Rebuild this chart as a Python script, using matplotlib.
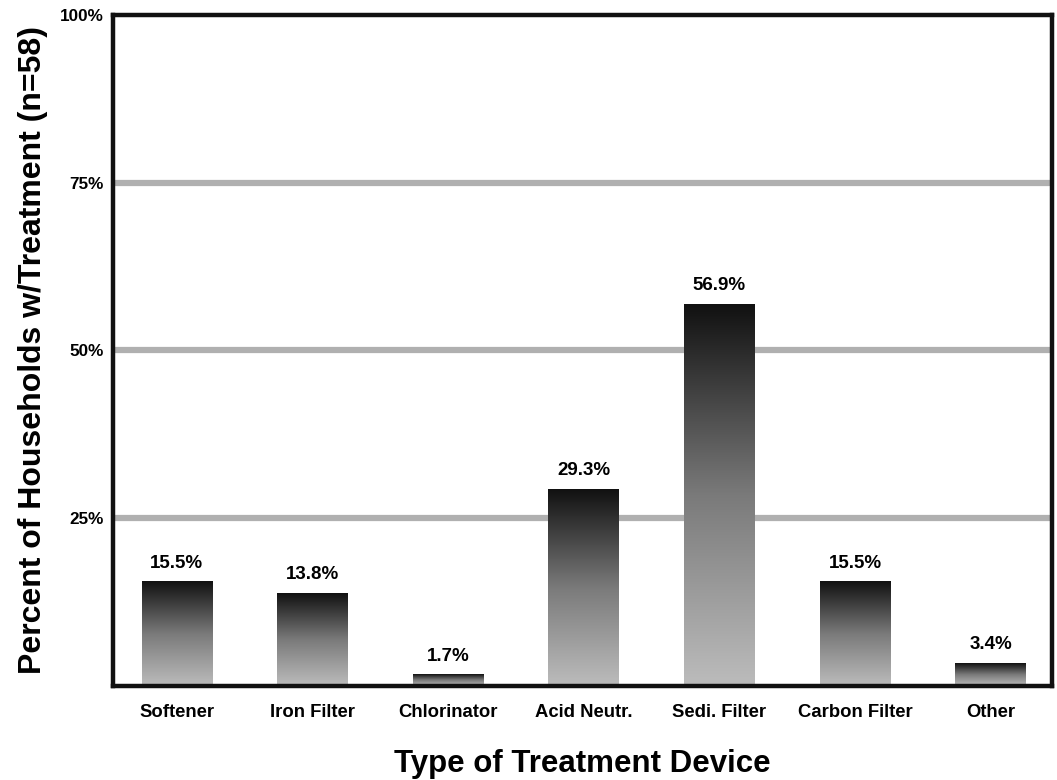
import numpy as np
import matplotlib
matplotlib.use("Agg")
import matplotlib.pyplot as plt
from matplotlib.colors import LinearSegmentedColormap

plt.rcParams['font.family'] = ['Liberation Sans', 'DejaVu Sans']
plt.rcParams['font.weight'] = 'bold'

devices = ["Softener", "Iron Filter", "Chlorinator", "Acid Neutr.",
           "Sedi. Filter", "Carbon Filter", "Other"]
percents = [15.5, 13.8, 1.7, 29.3, 56.9, 15.5, 3.4]
yticks = [25, 50, 75, 100]
ytick_labels = ["25%", "50%", "75%", "100%"]

fig = plt.figure(figsize=(10.57, 7.8), dpi=100)
ax = fig.add_axes([0.107, 0.1205, 0.888, 0.8605])

x = np.arange(len(devices))
width = 0.52

# gridlines as thick grey bands behind the bars
for t in yticks[:-1]:
    ax.axhline(t, color='#b0b0b0', lw=4.5, zorder=1)

# gradient bars: dark at top, light at bottom
cmap = LinearSegmentedColormap.from_list("bar", ["#bcbcbc", "#7a7a7a", "#111111"])
grad = np.linspace(0, 1, 256).reshape(-1, 1)
bars = ax.bar(x, percents, width=width, color='none', edgecolor='none', zorder=2)
for b in bars:
    x0, y0 = b.get_x(), b.get_y()
    w, h = b.get_width(), b.get_height()
    ax.imshow(grad, cmap=cmap, origin='lower', aspect='auto',
              extent=[x0, x0 + w, y0, y0 + h], zorder=2)
    ax.text(x0 + w / 2, h + 1.5, f"{h:.1f}%", ha='center', va='bottom',
            fontsize=13.5, fontweight='bold')

ax.set_xlim(-0.47, 6.45)
ax.set_ylim(0, 100)
ax.set_xticks(x)
ax.set_xticklabels(devices, fontsize=13.3, fontweight='bold')
ax.set_yticks(yticks)
ax.set_yticklabels(ytick_labels, fontsize=12.3, fontweight='bold')
ax.tick_params(length=0, pad=13)
ax.tick_params(axis='y', pad=7)

for s in ax.spines.values():
    s.set_linewidth(3.2)
    s.set_color('#111111')

ax.set_xlabel("Type of Treatment Device", fontsize=22.5, fontweight='bold', labelpad=20)
ax.set_ylabel("Percent of Households w/Treatment (n=58)", fontsize=23,
              fontweight='bold', labelpad=8)

fig.savefig("out.png", dpi=100)
